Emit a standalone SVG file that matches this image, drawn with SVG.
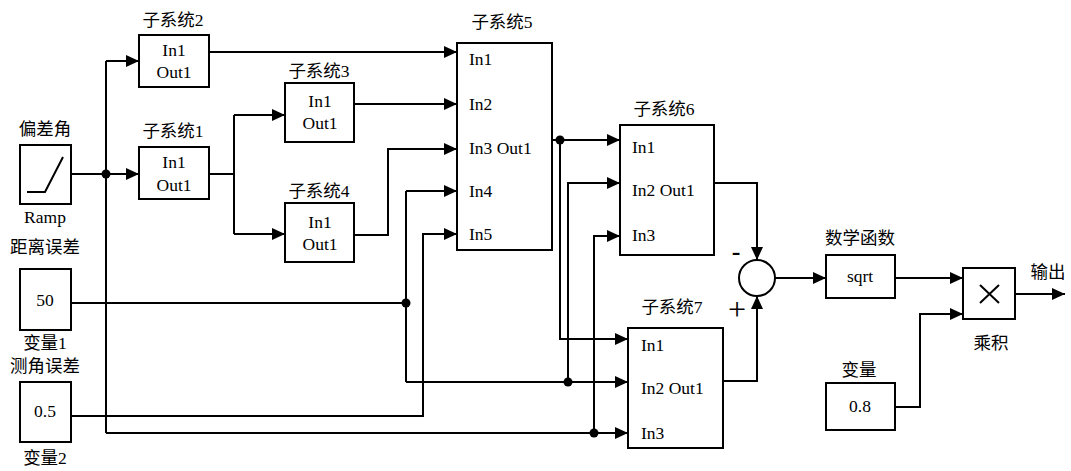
<svg xmlns="http://www.w3.org/2000/svg" width="1071" height="471" viewBox="0 0 1071 471">
<defs>
<marker id="arr" markerUnits="userSpaceOnUse" markerWidth="14" markerHeight="12" refX="13" refY="6" orient="auto">
<path d="M0,0 L13,6 L0,12 z" fill="#000"/>
</marker>
<style>
.box{fill:#fff;stroke:#000;stroke-width:2}
.w{fill:none;stroke:#000;stroke-width:2}
.a{fill:none;stroke:#000;stroke-width:2;marker-end:url(#arr)}
.dot{fill:#000}
.c{text-anchor:middle}
</style>
</defs>
<rect width="1071" height="471" fill="#fff"/>

<g id="connectors">
<path class="a" d="M71,174 H139"/>
<path class="w" d="M106,61 V433"/>
<path class="a" d="M106,61 H139"/>
<path class="a" d="M106,433 H628"/>
<path class="a" d="M594,433 V236 H620"/>
<path class="a" d="M209,52 H457"/>
<path class="w" d="M209,174 H234 M234,115 V234"/>
<path class="a" d="M234,115 H285"/>
<path class="a" d="M234,234 H285"/>
<path class="a" d="M354,104 H457"/>
<path class="a" d="M354,235 H388 V149 H457"/>
<path class="w" d="M71,303 H406"/>
<path class="w" d="M406,191 V382"/>
<path class="a" d="M406,191 H457"/>
<path class="a" d="M406,382 H628"/>
<path class="a" d="M568,382 V183 H620"/>
<path class="a" d="M71,416 H423 V234 H457"/>
<path class="a" d="M552,140 H620"/>
<path class="a" d="M560,140 V339 H628"/>
<path class="a" d="M714,183 H757 V260"/>
<path class="a" d="M723,381 H757 V296"/>
<path class="a" d="M775,278 H826"/>
<path class="a" d="M895,278 H963"/>
<path class="a" d="M895,407 H920 V314 H963"/>
<path class="a" d="M1015,294 H1065"/>
<circle class="dot" cx="106" cy="174" r="4.5"/>
<circle class="dot" cx="406" cy="303" r="4.5"/>
<circle class="dot" cx="568" cy="382" r="4.5"/>
<circle class="dot" cx="594" cy="433" r="4.5"/>
<circle class="dot" cx="560" cy="140" r="4.5"/>
</g>

<g font-family="Liberation Serif, Times New Roman, DejaVu Serif, Noto Sans CJK SC, serif" font-size="17.5">
<g id="ramp">
<text class="c" x="45" y="135">偏差角</text>
<rect class="box" x="20" y="145" width="51" height="59"/>
<path class="w" d="M27,192 H45 L63,157"/>
<text class="c" x="45" y="223">Ramp</text>
</g>

<g id="var1">
<text class="c" x="45" y="253">距离误差</text>
<rect class="box" x="20" y="269" width="51" height="61"/>
<text class="c" x="45" y="306">50</text>
<text class="c" x="45" y="349">变量1</text>
</g>

<g id="var2">
<text class="c" x="45" y="372">测角误差</text>
<rect class="box" x="20" y="382" width="51" height="60"/>
<text class="c" x="45" y="417">0.5</text>
<text class="c" x="45" y="464">变量2</text>
</g>

<g id="sub2">
<text class="c" x="173" y="26">子系统2</text>
<rect class="box" x="139" y="35" width="70" height="52"/>
<text class="c" x="174" y="56">In1</text>
<text class="c" x="174" y="78">Out1</text>
</g>

<g id="sub1">
<text class="c" x="173" y="137">子系统1</text>
<rect class="box" x="139" y="147" width="70" height="52"/>
<text class="c" x="174" y="168">In1</text>
<text class="c" x="174" y="191">Out1</text>
</g>

<g id="sub3">
<text class="c" x="319" y="77">子系统3</text>
<rect class="box" x="285" y="83" width="69" height="59"/>
<text class="c" x="320" y="107">In1</text>
<text class="c" x="320" y="129">Out1</text>
</g>

<g id="sub4">
<text class="c" x="319" y="197">子系统4</text>
<rect class="box" x="285" y="203" width="69" height="59"/>
<text class="c" x="320" y="228">In1</text>
<text class="c" x="320" y="250">Out1</text>
</g>

<g id="sub5">
<text class="c" x="502" y="28">子系统5</text>
<rect class="box" x="457" y="43" width="95" height="207"/>
<text x="469" y="65">In1</text>
<text x="469" y="110">In2</text>
<text x="469" y="154">In3 Out1</text>
<text x="469" y="197">In4</text>
<text x="469" y="240">In5</text>
</g>

<g id="sub6">
<text class="c" x="664" y="115">子系统6</text>
<rect class="box" x="620" y="125" width="94" height="130"/>
<text x="632" y="153">In1</text>
<text x="632" y="196">In2 Out1</text>
<text x="632" y="241">In3</text>
</g>

<g id="sub7">
<text class="c" x="672" y="313">子系统7</text>
<rect class="box" x="628" y="328" width="95" height="120"/>
<text x="641" y="351">In1</text>
<text x="641" y="394">In2 Out1</text>
<text x="641" y="439">In3</text>
</g>

<g id="sum">
<circle class="box" cx="757" cy="278" r="18"/>
<text class="c" x="736" y="260" font-size="26" font-weight="bold">-</text>
<text class="c" x="737" y="320" font-size="32">+</text>
</g>

<g id="math">
<text class="c" x="860" y="244">数学函数</text>
<rect class="box" x="826" y="255" width="69" height="43"/>
<text class="c" x="860" y="282">sqrt</text>
</g>

<g id="const">
<text class="c" x="859" y="376">变量</text>
<rect class="box" x="826" y="383" width="69" height="47"/>
<text class="c" x="860" y="412">0.8</text>
</g>

<g id="product">
<rect class="box" x="963" y="268" width="52" height="51"/>
<path class="w" d="M980,285 L999,303 M999,285 L980,303"/>
<text class="c" x="991" y="349">乘积</text>
</g>

<g id="output">
<text class="c" x="1048" y="278">输出</text>
</g>
</g>
</svg>
